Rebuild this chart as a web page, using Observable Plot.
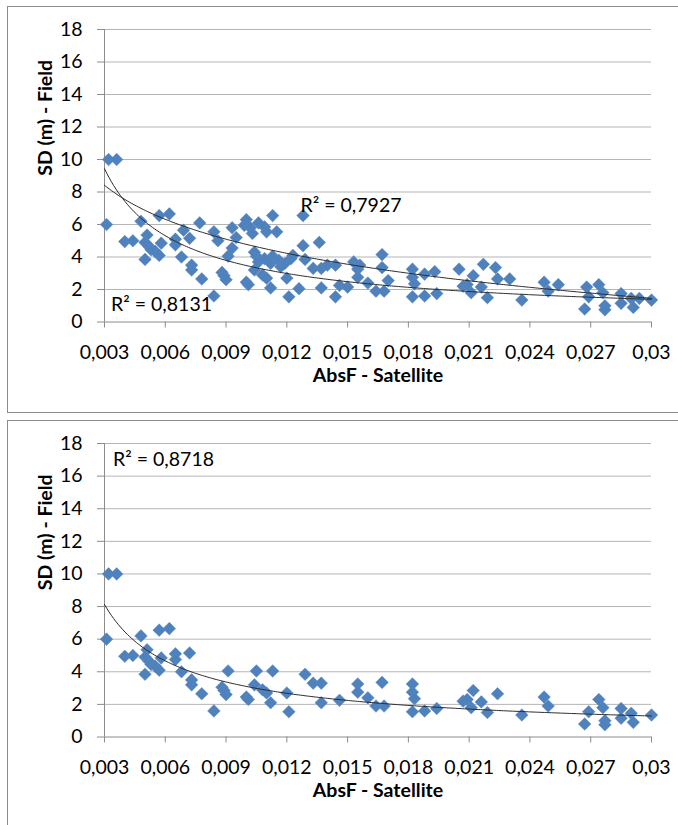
<!DOCTYPE html>
<html><head><meta charset="utf-8">
<script src="https://cdn.jsdelivr.net/npm/d3@7"></script>
<script src="https://cdn.jsdelivr.net/npm/@observablehq/plot@0.6"></script>
<style>
body{margin:0;background:#fff;}
#wrap{position:relative;width:678px;height:825px;overflow:hidden;font-family:Lato,sans-serif;}
.frame{position:absolute;border:1.5px solid #8c8c8c;box-sizing:border-box;}
.panel{position:absolute;left:0;}
</style></head><body><div id="wrap">
<div class="frame" style="left:7px;top:6px;width:690px;height:407px"></div>
<div class="frame" style="left:7px;top:420px;width:690px;height:420px"></div>
</div>
<script>
// Tick values and labels
const xTicks = [0.003, 0.006, 0.009, 0.012, 0.015, 0.018, 0.021, 0.024, 0.027, 0.03];
const xTickLabels = ["0,003", "0,006", "0,009", "0,012", "0,015", "0,018", "0,021", "0,024", "0,027", "0,03"];
const yTicks = [0, 2, 4, 6, 8, 10, 12, 14, 16, 18];

// Points common to both panels [AbsF, SD]
const sharedPoints = [
  [0.0032,10],[0.0036,10],[0.0031,6.0],[0.0040,4.95],[0.0044,5.0],[0.0048,6.2],[0.0051,5.35],
  [0.0050,4.9],[0.0050,3.85],[0.0052,4.65],[0.0053,4.45],[0.0055,4.35],[0.0057,4.1],[0.0057,6.55],
  [0.0062,6.65],[0.0058,4.85],[0.0065,5.1],[0.0065,4.75],[0.0068,4.0],[0.0072,5.15],[0.0073,3.5],
  [0.0073,3.2],[0.0078,2.65],[0.0084,1.6],[0.0088,3.05],[0.0089,2.85],[0.0090,2.6],[0.0091,4.05],
  [0.0100,2.45],[0.0101,2.3],[0.0104,3.2],[0.0105,4.05],[0.0108,2.9],[0.0110,2.7],[0.0112,2.1],
  [0.0113,4.05],[0.0120,2.7],[0.0121,1.55],[0.0129,3.85],[0.0133,3.3],[0.0137,3.3],[0.0137,2.1],
  [0.0146,2.25],[0.0155,3.25],[0.0155,2.75],[0.0160,2.4],[0.0164,1.9],[0.0167,3.35],[0.0168,1.9],
  [0.0182,3.25],[0.0182,2.75],[0.0183,2.35],[0.0182,1.55],[0.0188,1.6],[0.0194,1.75],[0.0207,2.2],
  [0.0209,2.3],[0.0211,1.8],[0.0212,2.85],[0.0216,2.15],[0.0219,1.5],[0.0224,2.65],[0.0236,1.35],
  [0.0247,2.45],[0.0249,1.9],[0.0267,0.8],[0.0269,1.55],[0.0274,2.3],[0.0276,1.8],[0.0277,1.0],
  [0.0277,0.75],[0.0285,1.75],[0.0285,1.15],[0.0290,1.45],[0.0291,0.9],[0.0300,1.35]
];
// Additional points shown only in the upper panel
const extraPoints = [
  [0.0069,5.65],[0.0077,6.1],[0.0084,5.55],[0.0086,5.0],[0.0093,5.8],[0.0095,5.2],[0.0093,4.55],
  [0.0099,5.95],[0.0100,6.3],[0.0102,5.8],[0.0103,5.45],[0.0106,6.1],[0.0109,5.85],[0.0110,5.55],
  [0.0113,6.55],[0.0115,5.55],[0.0104,4.3],[0.0106,3.7],[0.0109,3.9],[0.0112,3.6],[0.0116,3.8],
  [0.0117,3.4],[0.0119,3.6],[0.0122,3.9],[0.0123,4.1],[0.0126,2.05],[0.0128,4.7],[0.0128,6.55],
  [0.0136,4.9],[0.0140,3.5],[0.0144,3.5],[0.0144,1.55],[0.0150,2.15],[0.0153,3.7],[0.0156,3.5],
  [0.0167,4.15],[0.0170,2.55],[0.0188,2.95],[0.0193,3.1],[0.0205,3.25],[0.0217,3.55],[0.0223,3.35],
  [0.0230,2.65],[0.0254,2.3],[0.0268,2.15],[0.0294,1.45]
];

// Trendline parameters
const topPowerFit = {c: 0.0760, p: -0.83};     // y = c * x^p
const topLogFit = {a: -9.13, b: -3.02};        // y = a + b ln x
const bottomPowerFit = {c: 0.0779, p: -0.80};  // y = c * x^p
const r2Labels = {topLog: "R² = 0,7927", topPower: "R² = 0,8131", bottom: "R² = 0,8718"};
const xTitle = "AbsF - Satellite";
const yTitle = "SD (m) - Field";

const xDomain = [xTicks[0], xTicks[xTicks.length - 1]];
const sampleX = d3.range(0, 241).map(i => xDomain[0] + i * (xDomain[1] - xDomain[0]) / 240);
const powerCurve = f => sampleX.map(x => ({x, y: f.c * Math.pow(x, f.p)}));
const logCurve = f => sampleX.map(x => ({x, y: f.a + f.b * Math.log(x)}));

const toObj = arr => arr.map(([x, y]) => ({x, y}));

function panel(points, curves, texts, marginTop, marginBottom) {
  return Plot.plot({
    width: 678, height: 412,
    marginLeft: 104, marginRight: 27, marginTop, marginBottom,
    style: {fontFamily: "Lato, sans-serif", fontSize: "19.5px", color: "#000", background: "transparent", overflow: "visible"},
    x: {domain: xDomain, axis: null},
    y: {domain: [0, 18], axis: null},
    marks: [
      Plot.ruleY(yTicks.filter(d => d > 0), {stroke: "#b5b5b5", strokeWidth: 1}),
      Plot.ruleX([xDomain[0]], {stroke: "#8c8c8c", strokeWidth: 1}),
      Plot.ruleY([0], {stroke: "#8c8c8c", strokeWidth: 1}),
      Plot.axisX({ticks: xTicks, tickFormat: d => xTickLabels[xTicks.indexOf(d)], tickSize: 6, tickPadding: 17, stroke: "#8c8c8c", fill: "#000", label: null, fontSize: 19.5}),
      Plot.axisY({ticks: yTicks, tickSize: 7, tickPadding: 15, stroke: "#8c8c8c", fill: "#000", label: null, fontSize: 19.5}),
      Plot.dot(toObj(points), {x: "x", y: "y", symbol: "diamond2", r: 5.7, fill: "#4F81BD", stroke: "#5b8ac3", strokeWidth: 0.5}),
      ...curves.map(c => Plot.line(c, {x: "x", y: "y", stroke: "#2b2b2b", strokeWidth: 1})),
      Plot.text([xTitle], {text: d => d, frameAnchor: "bottom", dy: 59.5, fontWeight: "bold", fontSize: 19.5, fill: "#000"}),
      Plot.text([yTitle], {text: d => d, frameAnchor: "left", dx: -59, rotate: -90, fontWeight: "bold", fontSize: 19.5, fill: "#000"}),
      ...texts.map(t => Plot.text([t.label], {text: d => d, frameAnchor: "top-left", textAnchor: "start", lineAnchor: "middle", dx: t.dx, dy: t.dy, fontSize: 19.5, fill: "#000"}))
    ]
  });
}

const wrap = document.getElementById("wrap");
const top1 = panel(sharedPoints.concat(extraPoints),
  [logCurve(topLogFit), powerCurve(topPowerFit)],
  [{label: r2Labels.topLog, dx: 196, dy: 176}, {label: r2Labels.topPower, dx: 6.5, dy: 275.5}],
  29, 90.5);
top1.classList.add("panel"); top1.style.top = "0px";
wrap.appendChild(top1);

const bot = panel(sharedPoints,
  [powerCurve(bottomPowerFit)],
  [{label: r2Labels.bottom, dx: 8.5, dy: 16}],
  29, 89.5);
bot.classList.add("panel"); bot.style.top = "414px";
wrap.appendChild(bot);
</script>
</body></html>
